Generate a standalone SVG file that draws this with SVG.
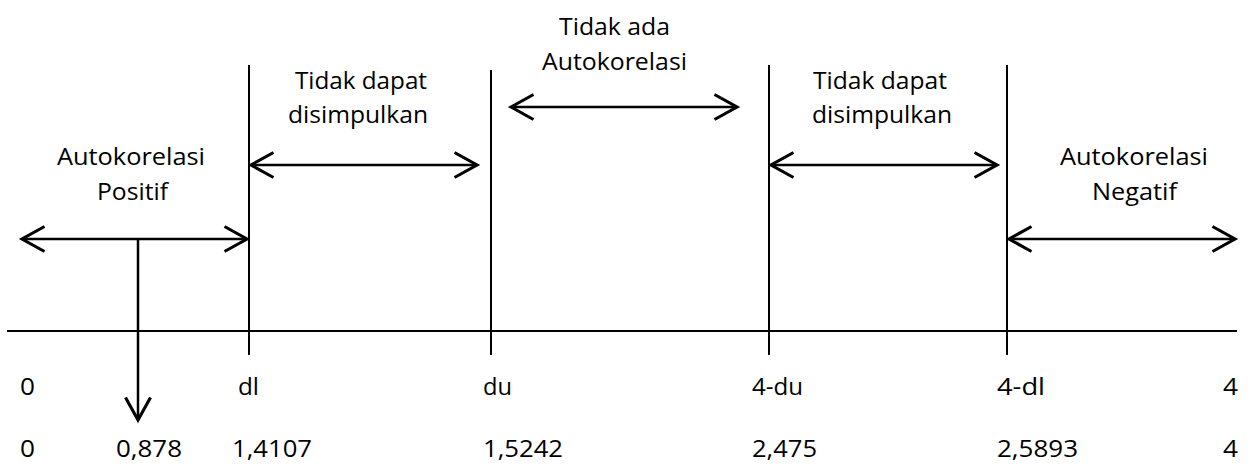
<svg xmlns="http://www.w3.org/2000/svg" width="1250" height="464" viewBox="0 0 1250 464">
<style>
.ln{stroke:#000;stroke-width:2;fill:none}
.ar{stroke:#000;stroke-width:2.5;fill:none;marker-start:url(#h);marker-end:url(#h)}
.ar1{stroke:#000;stroke-width:2.5;fill:none;marker-end:url(#h)}
text{font-family:"Open Sans","Noto Sans","Liberation Sans",sans-serif;font-size:24px;fill:#000}
</style>
<defs>
<marker id="h" markerUnits="userSpaceOnUse" markerWidth="30" markerHeight="30" refX="0" refY="0" viewBox="-20 -12 22 24" orient="auto-start-reverse" overflow="visible">
<path d="M-18,-10 L0,0 L-18,10" stroke="#000" stroke-width="2.5" fill="none"/>
</marker>
</defs>
<rect width="1250" height="464" fill="#fff"/>
<g id="axis">
<path class="ln" d="M7,331 H1237"/>
<path class="ln" d="M249,65 V355"/>
<path class="ln" d="M491,70 V355"/>
<path class="ln" d="M769,65 V355"/>
<path class="ln" d="M1007,65 V355"/>
</g>
<g id="connectors">
<path class="ar" d="M22,239 H247"/>
<path class="ar1" d="M138,239 V420"/>
<path class="ar" d="M251,165 H477"/>
<path class="ar" d="M511,107 H737"/>
<path class="ar" d="M771,165 H997"/>
<path class="ar" d="M1009,239 H1235"/>
</g>
<g id="positif">
<text x="57" y="165" textLength="148" lengthAdjust="spacingAndGlyphs">Autokorelasi</text>
<text x="97" y="200" textLength="71" lengthAdjust="spacingAndGlyphs">Positif</text>
</g>
<g id="tdd1">
<text x="295" y="89" textLength="132" lengthAdjust="spacingAndGlyphs">Tidak dapat</text>
<text x="288" y="123" textLength="140" lengthAdjust="spacingAndGlyphs">disimpulkan</text>
</g>
<g id="tidakada">
<text x="559" y="35" textLength="111" lengthAdjust="spacingAndGlyphs">Tidak ada</text>
<text x="542" y="70" textLength="145" lengthAdjust="spacingAndGlyphs">Autokorelasi</text>
</g>
<g id="tdd2">
<text x="813" y="89" textLength="134" lengthAdjust="spacingAndGlyphs">Tidak dapat</text>
<text x="812" y="123" textLength="140" lengthAdjust="spacingAndGlyphs">disimpulkan</text>
</g>
<g id="negatif">
<text x="1060" y="165" textLength="148" lengthAdjust="spacingAndGlyphs">Autokorelasi</text>
<text x="1092" y="200" textLength="85" lengthAdjust="spacingAndGlyphs">Negatif</text>
</g>
<g id="labels">
<text x="20" y="395" textLength="15" lengthAdjust="spacingAndGlyphs">0</text>
<text x="238" y="395" textLength="21" lengthAdjust="spacingAndGlyphs">dl</text>
<text x="483" y="395" textLength="29" lengthAdjust="spacingAndGlyphs">du</text>
<text x="752" y="395" textLength="51" lengthAdjust="spacingAndGlyphs">4-du</text>
<text x="997" y="395" textLength="48" lengthAdjust="spacingAndGlyphs">4-dl</text>
<text x="1223" y="395" textLength="15" lengthAdjust="spacingAndGlyphs">4</text>
</g>
<g id="values">
<text x="20" y="457" textLength="15" lengthAdjust="spacingAndGlyphs">0</text>
<text x="116" y="457" textLength="66" lengthAdjust="spacingAndGlyphs">0,878</text>
<text x="232" y="457" textLength="80" lengthAdjust="spacingAndGlyphs">1,4107</text>
<text x="483" y="457" textLength="80" lengthAdjust="spacingAndGlyphs">1,5242</text>
<text x="752" y="457" textLength="65" lengthAdjust="spacingAndGlyphs">2,475</text>
<text x="997" y="457" textLength="81" lengthAdjust="spacingAndGlyphs">2,5893</text>
<text x="1223" y="457" textLength="15" lengthAdjust="spacingAndGlyphs">4</text>
</g>
</svg>
